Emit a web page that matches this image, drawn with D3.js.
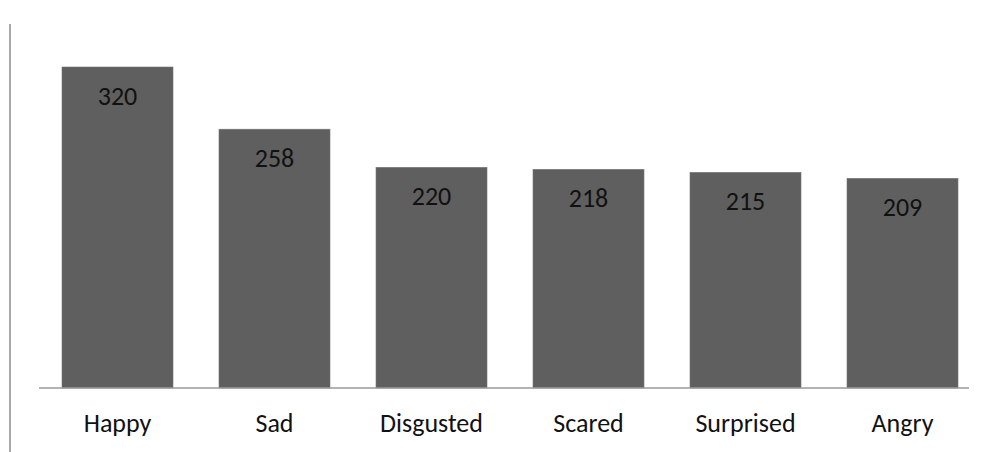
<!DOCTYPE html>
<html>
<head>
<meta charset="utf-8">
<script src="https://cdn.jsdelivr.net/npm/d3@7"></script>
<style>
	body { margin: 0; background: #fff; }
	svg { display: block; }
</style>
</head>
<body>
<div id="chart"></div>
<script>
	// chart data
	var categories = ['Happy', 'Sad', 'Disgusted', 'Scared', 'Surprised', 'Angry'];
	var counts = [320, 258, 220, 218, 215, 209];

	var width = 999, height = 452;
	var baseY = 388;

	var svg = d3.select('#chart').append('svg')
		.attr('width', width)
		.attr('height', height);

	var x = d3.scaleBand()
		.domain(categories)
		.range([39, 981])
		.paddingInner(0.293)
		.paddingOuter(0.1465);

	var y = d3.scaleLinear()
		.domain([0, 320])
		.range([baseY, 67]);

	// left border line
	svg.append('line')
		.attr('x1', 10).attr('x2', 10)
		.attr('y1', 24).attr('y2', height)
		.attr('stroke', '#8c8c8c')
		.attr('stroke-width', 1.5);

	var data = categories.map(function (c, i) {
		return {name: c, value: counts[i]};
	});

	svg.append('g')
		.selectAll('rect')
		.data(data)
		.enter().append('rect')
		.attr('x', function (d) { return x(d.name); })
		.attr('y', function (d) { return y(d.value); })
		.attr('width', x.bandwidth())
		.attr('height', function (d) { return baseY - y(d.value); })
		.attr('fill', '#5f5f5f')
		.attr('stroke', '#777')
		.attr('stroke-width', 0.6);

	// value labels
	svg.append('g')
		.selectAll('text')
		.data(data)
		.enter().append('text')
		.attr('x', function (d) { return x(d.name) + x.bandwidth() / 2; })
		.attr('y', function (d) { return y(d.value) + 38; })
		.attr('text-anchor', 'middle')
		.attr('font-family', 'Carlito, "Open Sans", sans-serif')
		.attr('font-size', 26)
		.attr('fill', '#111')
		.text(function (d) { return d.value; });

	// x axis
	svg.append('line')
		.attr('x1', 39).attr('x2', 969)
		.attr('y1', baseY).attr('y2', baseY)
		.attr('stroke', '#9a9a9a')
		.attr('stroke-width', 1.5);

	svg.append('g')
		.selectAll('text')
		.data(categories)
		.enter().append('text')
		.attr('x', function (d) { return x(d) + x.bandwidth() / 2; })
		.attr('y', 432)
		.attr('text-anchor', 'middle')
		.attr('font-family', 'Carlito, "Open Sans", sans-serif')
		.attr('font-size', 26)
		.attr('fill', '#111')
		.text(function (d) { return d; });
</script>
</body>
</html>
